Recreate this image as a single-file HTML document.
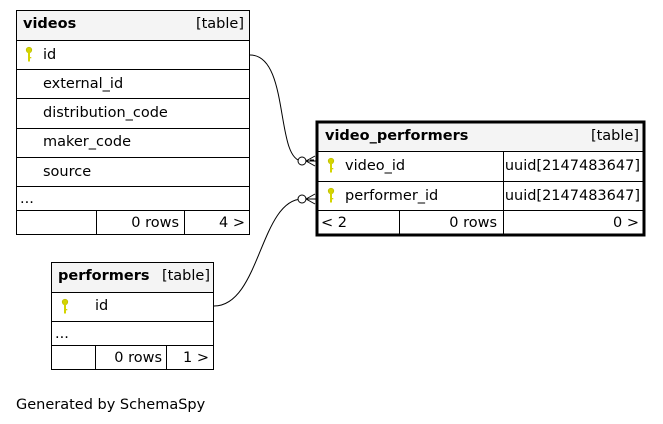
<!DOCTYPE html>
<html><head><style>
html,body{margin:0;padding:0;background:#fff;}
svg{display:block;font-family:"DejaVu Sans","Liberation Sans",sans-serif;font-size:14.5px;}
</style></head><body>
<svg width="663" height="424" viewBox="0 0 663 424" xmlns="http://www.w3.org/2000/svg">
<defs>
<g id="key"><circle cx="0" cy="0" r="2.8" fill="#d4d400" stroke="#b8b800" stroke-width="0.6"/><rect x="-1" y="1.5" width="2" height="10" fill="#d4d400"/><rect x="0.5" y="7" width="1.8" height="1.3" fill="#d4d400"/></g>
</defs>
<!-- videos -->
<rect x="16.5" y="10.5" width="233" height="30" fill="#f4f4f4" stroke="#000"/>
<text x="23" y="28" font-weight="bold">videos</text>
<text x="244" y="28" text-anchor="end">[table]</text>
<g fill="none" stroke="#000">
<rect x="16.5" y="40.5" width="233" height="29"/>
<rect x="16.5" y="69.5" width="233" height="29"/>
<rect x="16.5" y="98.5" width="233" height="30"/>
<rect x="16.5" y="128.5" width="233" height="29"/>
<rect x="16.5" y="157.5" width="233" height="29"/>
<rect x="16.5" y="186.5" width="233" height="24"/>
<rect x="16.5" y="210.5" width="80" height="24"/>
<rect x="96.5" y="210.5" width="88" height="24"/>
<rect x="184.5" y="210.5" width="65" height="24"/>
</g>
<use href="#key" x="29" y="50"/>
<text x="43" y="59">id</text>
<text x="43" y="88">external_id</text>
<text x="43" y="117">distribution_code</text>
<text x="43" y="146">maker_code</text>
<text x="43" y="176">source</text>
<text x="20" y="203">...</text>
<text x="179" y="227" text-anchor="end">0 rows</text>
<text x="245" y="227" text-anchor="end">4 &gt;</text>

<!-- video_performers -->
<rect x="317" y="122" width="327" height="113" fill="#fff" stroke="#000" stroke-width="3"/>
<rect x="318.5" y="123.5" width="324" height="27" fill="#f4f4f4"/>
<g fill="none" stroke="#000">
<line x1="317" y1="151.5" x2="644" y2="151.5"/>
<line x1="317" y1="181.5" x2="644" y2="181.5"/>
<line x1="317" y1="210.5" x2="644" y2="210.5"/>
<line x1="503.5" y1="151" x2="503.5" y2="235"/>
<line x1="399.5" y1="210" x2="399.5" y2="235"/>
</g>
<text x="325" y="140" font-weight="bold">video_performers</text>
<text x="639" y="140" text-anchor="end">[table]</text>
<use href="#key" x="331" y="161"/>
<text x="345" y="170">video_id</text>
<text x="640" y="170" text-anchor="end">uuid[2147483647]</text>
<use href="#key" x="331" y="191"/>
<text x="345" y="200">performer_id</text>
<text x="640" y="200" text-anchor="end">uuid[2147483647]</text>
<text x="321" y="227">&lt; 2</text>
<text x="497" y="227" text-anchor="end">0 rows</text>
<text x="639" y="227" text-anchor="end">0 &gt;</text>

<!-- performers -->
<rect x="51.5" y="262.5" width="162" height="30" fill="#f4f4f4" stroke="#000"/>
<text x="58" y="280" font-weight="bold">performers</text>
<text x="210" y="280" text-anchor="end">[table]</text>
<g fill="none" stroke="#000">
<rect x="51.5" y="292.5" width="162" height="29"/>
<rect x="51.5" y="321.5" width="162" height="24"/>
<rect x="51.5" y="345.5" width="44" height="24"/>
<rect x="95.5" y="345.5" width="71" height="24"/>
<rect x="166.5" y="345.5" width="47" height="24"/>
</g>
<use href="#key" x="65" y="302"/>
<text x="95" y="310">id</text>
<text x="55" y="338">...</text>
<text x="162" y="362" text-anchor="end">0 rows</text>
<text x="209" y="362" text-anchor="end">1 &gt;</text>

<!-- connectors -->
<g fill="none" stroke="#000" stroke-width="1">
<path d="M250 55 C290 55 275 160 302 161"/>
<path d="M214 306 C260 306 260 200 302 199"/>
<circle cx="302" cy="161" r="4" fill="#fff"/>
<circle cx="302" cy="199" r="4" fill="#fff"/>
<path d="M306 161 L316 161 M306 161 L315 156 M306 161 L315 166 M310 160 L314 160"/>
<path d="M306 199 L316 199 M306 199 L315 194 M306 199 L315 204"/>
</g>
<text x="16" y="409">Generated by SchemaSpy</text>
</svg>
</body></html>
